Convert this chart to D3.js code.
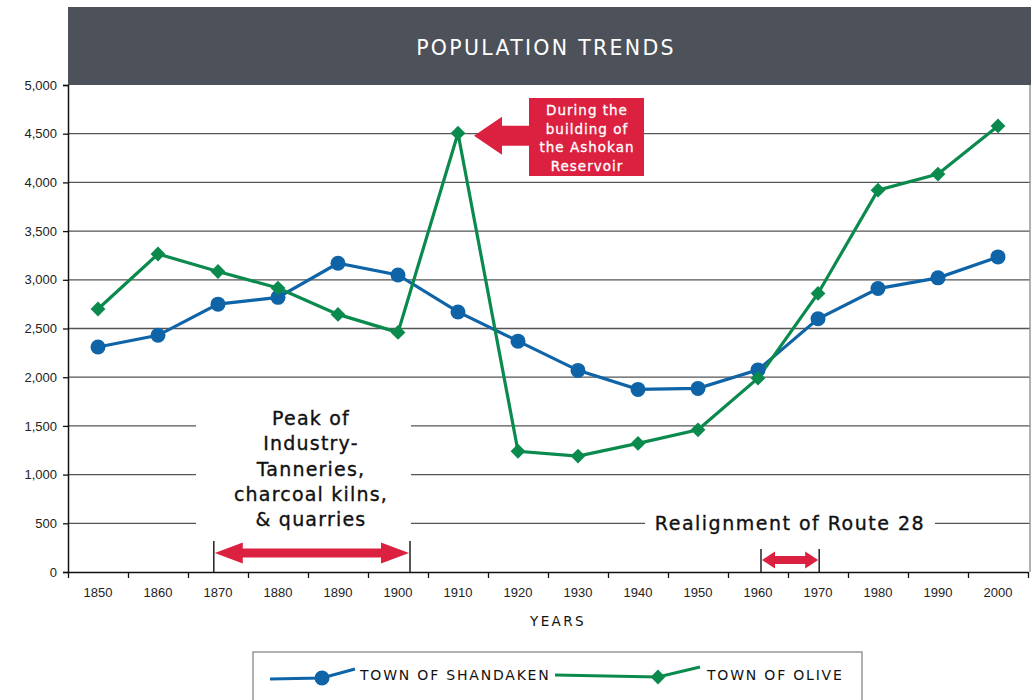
<!DOCTYPE html>
<html>
<head>
<meta charset="utf-8">
<script src="https://cdn.jsdelivr.net/npm/d3@7"></script>
<style>
  body { margin: 0; background: #fff; }
  svg { display: block; }
  .tick text { font-family: "Liberation Sans", Arial, sans-serif; font-size: 13px; fill: #222; }
  .note { font-family: "DejaVu Sans", sans-serif; fill: #111; stroke: #111; stroke-width: 0.35; }
</style>
</head>
<body>
<div id="chart"></div>
<script>
const years = [1850, 1860, 1870, 1880, 1890, 1900, 1910, 1920, 1930, 1940, 1950, 1960, 1970, 1980, 1990, 2000];
const shandaken = [2310, 2430, 2750, 2820, 3170, 3050, 2670, 2370, 2070, 1875, 1885, 2075, 2600, 2910, 3020, 3235];
const olive = [2700, 3265, 3085, 2915, 2645, 2460, 4505, 1240, 1190, 1320, 1460, 1990, 2860, 3920, 4085, 4580];
const yTicks = [0, 500, 1000, 1500, 2000, 2500, 3000, 3500, 4000, 4500, 5000];
const peakLines = ["Peak of", "Industry-", "Tanneries,", "charcoal kilns,", "& quarries"];
const calloutLines = ["During the", "building of", "the Ashokan", "Reservoir"];

let width = 1034,
    height = 700,
    margin = ({ top: 85, right: 6, bottom: 128, left: 68 });

const blue = "#0f64a8", green = "#0b8a4e", red = "#dc2140";

const svg = d3.select("#chart")
  .append("svg")
  .attr("width", width)
  .attr("height", height);

// decade positions: each category takes a 10-year slot
let x = d3.scaleLinear()
  .domain([1845, 2005])
  .range([margin.left, 1028]);

let y = d3.scaleLinear()
  .domain([0, 5000])
  .range([height - margin.bottom, margin.top]);

// title bar
svg.append("rect")
  .attr("x", margin.left).attr("y", 7)
  .attr("width", 1031 - margin.left).attr("height", y(5000) - 7)
  .attr("fill", "#4d5159");

svg.append("text")
  .attr("x", 546).attr("y", 55)
  .attr("text-anchor", "middle")
  .attr("font-family", "DejaVu Sans, sans-serif")
  .attr("font-size", 20.5)
  .attr("letter-spacing", 2.3)
  .attr("fill", "#fff")
  .text("POPULATION TRENDS");

// gridlines
svg.append("g")
  .selectAll("line")
  .data(yTicks.filter(d => d > 0 && d < 5000))
  .join("line")
  .attr("x1", margin.left).attr("x2", 1030)
  .attr("y1", d => y(d)).attr("y2", d => y(d))
  .attr("stroke", "#555")
  .attr("stroke-width", 1.3);

// right border
svg.append("line")
  .attr("x1", 1030).attr("x2", 1030)
  .attr("y1", y(5000)).attr("y2", y(0))
  .attr("stroke", "#999").attr("stroke-width", 1.5);

// white boxes behind annotations
svg.append("rect")
  .attr("x", 196).attr("y", 400).attr("width", 215).attr("height", 132)
  .attr("fill", "#fff");
svg.append("rect")
  .attr("x", 645).attr("y", 510).attr("width", 290).attr("height", 26)
  .attr("fill", "#fff");

// peak text
svg.append("g")
  .selectAll("text")
  .data(peakLines)
  .join("text")
  .attr("class", "note")
  .attr("x", 311)
  .attr("y", (d, i) => 425 + i * 25.3)
  .attr("text-anchor", "middle")
  .attr("font-size", 19)
  .attr("letter-spacing", 1.2)
  .text(d => d);

svg.append("text")
  .attr("class", "note")
  .attr("x", 790).attr("y", 530)
  .attr("text-anchor", "middle")
  .attr("font-size", 19)
  .attr("letter-spacing", 1.5)
  .text("Realignment of Route 28");

// double arrow
function doubleArrow(x1, x2, yc, sh, hh, hl) {
  return `M${x1},${yc} L${x1 + hl},${yc - hh} L${x1 + hl},${yc - sh} L${x2 - hl},${yc - sh} L${x2 - hl},${yc - hh} L${x2},${yc} ` +
    `L${x2 - hl},${yc + hh} L${x2 - hl},${yc + sh} L${x1 + hl},${yc + sh} L${x1 + hl},${yc + hh} Z`;
}

let ranges = [
  { from: 1869.3, to: 1902, yc: 553, top: 541, sh: 4.5, hh: 10.5, hl: 28 },
  { from: 1960.5, to: 1970.2, yc: 560, top: 549, sh: 4, hh: 8.5, hl: 13 }
];
for (let r of ranges) {
  svg.append("path")
    .attr("d", doubleArrow(x(r.from) + 1, x(r.to) - 1, r.yc, r.sh, r.hh, r.hl))
    .attr("fill", red);
  for (let v of [r.from, r.to]) {
    svg.append("line")
      .attr("x1", x(v)).attr("x2", x(v))
      .attr("y1", r.top).attr("y2", y(0))
      .attr("stroke", "#222").attr("stroke-width", 1.5);
  }
}

// y axis
svg.append("g")
  .attr("transform", `translate(${margin.left},0)`)
  .call(d3.axisLeft(y)
    .tickValues(yTicks)
    .tickSize(5)
    .tickPadding(6)
    .tickFormat(d3.format(","))
  )
  .call(g => g.select(".domain").attr("stroke", "#111").attr("stroke-width", 1.5))
  .call(g => g.selectAll(".tick line").attr("stroke", "#111").attr("stroke-width", 1.3));

// x axis: ticks between decades, labels at centers
svg.append("g")
  .attr("transform", `translate(0,${y(0)})`)
  .call(d3.axisBottom(x)
    .tickValues(d3.range(1845, 2006, 10))
    .tickSize(6)
    .tickSizeOuter(0)
    .tickFormat("")
  )
  .call(g => g.select(".domain").attr("stroke", "#111").attr("stroke-width", 1.5))
  .call(g => g.selectAll(".tick line").attr("stroke", "#111").attr("stroke-width", 1.3));

svg.append("g")
  .selectAll("text")
  .data(years)
  .join("text")
  .attr("x", d => x(d))
  .attr("y", 597)
  .attr("text-anchor", "middle")
  .attr("font-family", "Liberation Sans, Arial, sans-serif")
  .attr("font-size", 13)
  .attr("fill", "#222")
  .text(d => d);

svg.append("text")
  .attr("x", 558).attr("y", 626)
  .attr("text-anchor", "middle")
  .attr("font-family", "DejaVu Sans, sans-serif")
  .attr("font-size", 13.5)
  .attr("letter-spacing", 2.4)
  .attr("fill", "#111")
  .text("YEARS");

// callout for the reservoir
let tipX = x(1910) + 16, tipY = y(4500) + 2;
svg.append("path")
  .attr("d", `M${tipX},${tipY} L${tipX + 28},${tipY - 19} L${tipX + 28},${tipY - 10} L${tipX + 56},${tipY - 10} L${tipX + 56},${tipY + 10} L${tipX + 28},${tipY + 10} L${tipX + 28},${tipY + 19} Z`)
  .attr("fill", red);
svg.append("rect")
  .attr("x", tipX + 55).attr("y", 98).attr("width", 115).attr("height", 78)
  .attr("fill", red);
svg.append("g")
  .selectAll("text")
  .data(calloutLines)
  .join("text")
  .attr("x", tipX + 113)
  .attr("y", (d, i) => 115 + i * 18.6)
  .attr("text-anchor", "middle")
  .attr("font-family", "DejaVu Sans, sans-serif")
  .attr("font-size", 13.5)
  .attr("letter-spacing", 1)
  .attr("fill", "#fff")
  .attr("stroke", "#fff")
  .attr("stroke-width", 0.3)
  .text(d => d);

// series
let line = d3.line()
  .x(d => x(d[0]))
  .y(d => y(d[1]));

let shData = years.map((yr, i) => [yr, shandaken[i]]);
let olData = years.map((yr, i) => [yr, olive[i]]);

svg.append("path")
  .datum(shData)
  .attr("fill", "none")
  .attr("stroke", blue)
  .attr("stroke-width", 3.2)
  .attr("d", line);

svg.append("path")
  .datum(olData)
  .attr("fill", "none")
  .attr("stroke", green)
  .attr("stroke-width", 3.2)
  .attr("d", line);

let diamond = d3.symbol().type(d3.symbolDiamond2).size(140);

svg.append("g")
  .selectAll("circle")
  .data(shData)
  .join("circle")
  .attr("cx", d => x(d[0]))
  .attr("cy", d => y(d[1]))
  .attr("r", 7.5)
  .attr("fill", blue);

svg.append("g")
  .selectAll("path")
  .data(olData)
  .join("path")
  .attr("transform", d => `translate(${x(d[0])},${y(d[1])})`)
  .attr("d", diamond)
  .attr("fill", green);

// legend
svg.append("rect")
  .attr("x", 253).attr("y", 652).attr("width", 609).attr("height", 60)
  .attr("fill", "#fff").attr("stroke", "#888").attr("stroke-width", 1.3);

let legend = [
  { label: "TOWN OF SHANDAKEN", color: blue, pts: [[270, 679], [322, 678], [355, 669]], tx: 360, type: "circle" },
  { label: "TOWN OF OLIVE", color: green, pts: [[555, 675], [658, 677], [700, 667]], tx: 707, type: "diamond" }
];
for (let l of legend) {
  svg.append("path")
    .attr("d", d3.line()(l.pts))
    .attr("fill", "none").attr("stroke", l.color).attr("stroke-width", 3.2);
  if (l.type === "circle") {
    svg.append("circle").attr("cx", l.pts[1][0]).attr("cy", l.pts[1][1]).attr("r", 7.5).attr("fill", l.color);
  } else {
    svg.append("path")
      .attr("transform", `translate(${l.pts[1][0]},${l.pts[1][1]})`)
      .attr("d", diamond).attr("fill", l.color);
  }
  svg.append("text")
    .attr("x", l.tx).attr("y", 680)
    .attr("font-family", "DejaVu Sans, sans-serif")
    .attr("font-size", 14)
    .attr("letter-spacing", 1.8)
    .attr("fill", "#111")
    .text(l.label);
}
</script>
</body>
</html>
